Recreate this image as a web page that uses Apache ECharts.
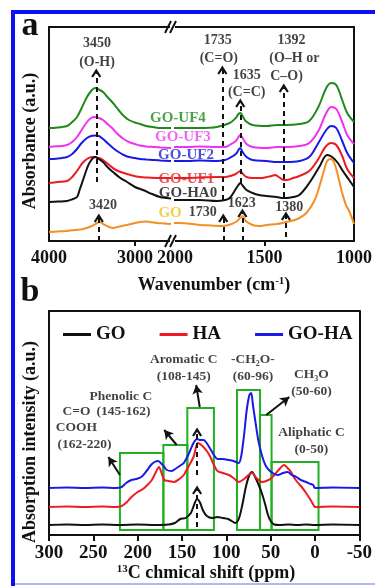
<!DOCTYPE html>
<html><head><meta charset="utf-8">
<script src="https://cdn.jsdelivr.net/npm/echarts@6/dist/echarts.min.js"></script>
<style>html,body{margin:0;padding:0;background:#fff}#c{width:375px;height:586px}</style>
</head><body><div id="c"></div>
<script>
// ---------- Panel a: FTIR spectra [wavenumber cm-1, absorbance a.u. (offset)] ----------
const uf4L = [[4000,113],[3950,113],[3850,114],[3790,115],[3730,119],[3674,124],[3620,133],[3558,144],[3510,150],[3465,153],[3420,151.5],[3371,149],[3320,144],[3255,138],[3190,131],[3130,125],[3070,121],[3000,118.5],[2941,117],[2870,115],[2789,114],[2700,113],[2626,113],[2580,113]];
const uf4R = [[2005,113],[1930,113],[1861,113],[1766,114],[1694,118],[1660,123],[1645,127],[1635,128],[1622,125],[1605,120],[1566,116],[1488,115],[1430,116],[1377,116],[1305,117],[1250,120],[1199,134],[1155,153],[1127,158],[1099,156],[1066,141],[1038,128],[1000,119]];
const uf3L = [[4000,94],[3950,94.5],[3850,95],[3790,96],[3730,99],[3674,104],[3620,111],[3558,119],[3510,123],[3465,124],[3420,123],[3371,121],[3320,117],[3255,112],[3190,106],[3130,102],[3070,99],[3000,97],[2941,95.5],[2870,94.5],[2789,94],[2700,93.5],[2580,93]];
const uf3R = [[2005,94],[1930,94],[1861,94.5],[1766,94],[1720,94],[1694,96],[1660,100],[1645,104],[1635,106],[1622,103],[1600,97],[1566,94],[1488,93],[1430,94],[1377,94],[1305,95],[1250,98],[1199,110],[1155,128],[1127,134],[1099,132],[1066,119],[1038,106],[1000,97]];
const uf2L = [[4000,82],[3950,82],[3850,83],[3790,84],[3730,87],[3674,92],[3620,98],[3558,103],[3510,105],[3465,105.5],[3420,105],[3371,102],[3320,98],[3255,93],[3190,89],[3130,86],[3070,84],[3000,83],[2941,82],[2870,81.5],[2789,81],[2700,80.5],[2580,80]];
const uf2R = [[2005,80],[1930,80],[1861,80.5],[1766,80],[1720,81],[1694,83],[1660,87],[1645,91],[1635,93],[1622,89],[1600,84],[1566,81],[1488,80],[1430,79],[1377,79],[1305,80],[1250,84],[1199,98],[1155,111],[1127,115],[1099,113],[1066,100],[1038,88],[1000,78]];
const uf1L = [[4000,58],[3900,59],[3790,60],[3730,64],[3674,70],[3610,78],[3558,82],[3500,84],[3465,84],[3420,83],[3371,81],[3300,76],[3220,71],[3130,68],[3050,66],[2941,64],[2850,63.5],[2700,63],[2580,63]];
const uf1R = [[2005,63],[1930,63],[1861,63.5],[1766,64],[1720,64],[1690,65],[1660,67],[1645,69],[1635,70],[1620,67],[1600,64],[1566,63],[1520,63],[1488,64],[1460,65],[1440,66],[1420,64],[1392,61],[1377,61],[1340,63],[1305,65],[1250,70],[1199,82],[1160,94],[1127,98],[1099,96],[1066,85],[1038,72],[1000,63]];
const ha0L = [[4000,39],[3900,39.5],[3790,40],[3720,42],[3674,44],[3640,52],[3604,61],[3560,72],[3523,79],[3465,84],[3420,82],[3371,79],[3320,74],[3255,69],[3170,63],[3092,59],[3000,54],[2906,51],[2800,47],[2708,44],[2626,43],[2580,42.5]];
const ha0R = [[2005,41],[1988,41],[1920,41],[1861,41],[1766,40],[1720,41],[1694,43],[1660,52],[1645,56],[1635,58],[1620,55],[1600,51],[1566,48],[1530,46],[1488,45],[1433,44],[1392,43],[1377,43],[1340,44],[1305,46],[1250,58],[1194,74],[1150,86],[1122,84],[1090,78],[1066,71],[1027,61],[1000,54]];
const goL = [[4000,9],[3900,9.5],[3800,10],[3700,11],[3604,12],[3500,15],[3440,18],[3406,19],[3370,17],[3300,14],[3255,13],[3180,14.5],[3092,16],[3000,18],[2941,19],[2880,19.5],[2824,19],[2740,18],[2660,17.5],[2580,17]];
const goR = [[2005,18],[1972,18],[1900,17],[1861,16],[1800,15.5],[1733,15],[1700,16],[1660,19],[1635,23],[1622,25],[1605,20],[1566,16],[1530,15],[1488,16],[1430,17],[1400,18],[1380,19],[1350,20],[1305,23],[1266,28],[1222,40],[1194,54],[1165,72],[1150,80],[1130,82],[1110,78],[1085,62],[1066,48],[1045,36],[1027,30],[1000,17]];

const ftirNames = ['GO-UF4','GO-UF3','GO-UF2','GO-UF1','GO-HA0','GO'];
const ftirColors = ['#1e8a1e','#f032f0','#1a1ae6','#ec1c24','#111111','#f39025'];
const ftirLabelColors = ['#1e8a1e','#f040f0','#2222d0','#e8202a','#111111','#f2c21c'];
const ftirLabelPos = [[1983,123],[1955,104],[1938,86],[1936,62],[1927,48],[2027,28]];

// annotation texts [wavenumber, height, text]
const ftirNotesL = [[3441,198,'3450'],[3441,179,'(O-H)'],[3371,36,'3420']];
const ftirNotesR = [[1761,201,'1735'],[1755,183,'(C=O)'],[1599,166,'1635'],[1599,149,'(C=C)'],[1349,201,'1392'],[1333,183,'(O–H or'],[1377,165,'C–O)'],[1844,29,'1730'],[1627,38,'1623'],[1361,34,'1380']];
// dashed arrows [wavenumber, from, to]
const ftirArrowsL = [[3450,59,168],[3420,0,23]];
const ftirArrowsR = [[1735,41,171],[1635,58,138],[1392,44,153],[1730,0,23],[1623,0,28],[1380,4,25]];
// tick labels
const ftirTicksL = [3000,4000];
const ftirTicksR = [1000,1500,2000];

// ---------- Panel b: 13C NMR [ppm, intensity a.u. (offset)] ----------
const nmrGO = [[300,10],[280,10.5],[260,10],[240,10.5],[220,10],[200,10.5],[180,10],[165,10.5],[158,12],[152,16],[146,17],[140,22],[136,31],[133,36],[130,33],[126,24],[122,19],[116,17],[110,18],[104,17],[98,16],[94,14],[90,12],[86,16],[82,30],[78,48],[74,60],[71,63],[67,57],[63,49],[60,42],[56,30],[53,20],[50,14],[46,10.5],[40,10],[30,10.5],[20,10],[10,10.5],[0,10],[-20,10.5],[-50,10]];
const nmrHA = [[300,28],[280,28.5],[260,28],[240,28.5],[225,28],[218,29],[212,33],[207,38],[200,43],[194,46],[189,50],[184,55],[180,62],[176,68],[173,62],[170,55],[165,54],[159,53],[153,56],[148,60],[143,68],[137,78],[132,92],[127,89],[122,84],[118,78],[114,70],[110,64],[104,62],[97,60],[92,57],[86,53],[80,56],[75,60],[71,62],[66,57],[60,53],[55,54],[49,57],[44,62],[39,67],[35,70],[31,67],[27,63],[24,58],[20,53],[15,48],[10,42],[5,35],[1,29],[0,28],[-20,28.5],[-50,28]];
const nmrGOHA = [[300,47],[280,47.5],[260,47],[240,47.5],[225,47],[218,48],[213,52],[207,55],[202,56],[196,58],[190,64],[185,70],[181,73],[177,74],[174,72],[170,68],[167,65],[162,64],[156,67],[151,70],[148,72],[143,80],[137,92],[133,96],[130,95],[126,95],[123,93],[118,86],[114,80],[110,76],[104,76],[97,75],[92,74],[86,72],[83,80],[80,100],[77,125],[74,140],[72,142],[70,130],[67,112],[64,95],[60,80],[56,70],[52,65],[46,61],[42,60],[36,62],[31,63],[26,60],[21,58],[16,55],[10,53],[5,51],[2,50],[0,47],[-20,47.5],[-50,47]];
const nmrNames = ['GO','HA','GO-HA'];
const nmrColors = ['#111111','#ec1c24','#1a1ae6'];
// boxes [fromPpm, toPpm, top]
const nmrBoxes = [[220,171,82],[171,144,90],[144,114,127],[88,62,145],[62,49,120],[49,-4,73]];
const nmrBoxBottom = 5;
const nmrNotes = [[269,123,'C=O'],[269,107,'COOH'],[260,90,'(162-220)'],[219,138,'Phenolic C'],[216,123,'(145-162)'],[148,175,'Aromatic C'],[148,158,'(108-145)'],[70,175,'-CH{s|2}O-'],[70,158,'(60-96)'],[4,160,'CH{s|3}O'],[4,143,'(50-60)'],[4,102,'Aliphatic C'],[4,85,'(0-50)']];
const nmrDashed = [[133,8,45],[133,60,103]];
const nmrSolid = [[220,60,233,78],[156,90,170,105],[130,128,134,150],[55,120,29,138]];

// ---------- build ----------
const FONT = 'Liberation Serif';
const chevron = 'path://M0,9 L5,0 L10,9 L8.2,10 L5,4.6 L1.8,10 Z';
const chart = echarts.init(document.getElementById('c'), null, {renderer:'canvas'});
const plain = v => String(v);

function axisLineOnly(extra){
  return Object.assign({type:'value', axisLine:{show:true,onZero:false,lineStyle:{color:'#111',width:2}},
    axisTick:{show:false}, axisLabel:{show:false}, splitLine:{show:false}}, extra);
}
const tickLabel = (size)=>({show:true, fontFamily:FONT, fontWeight:'bold', fontSize:size, color:'#111', formatter:plain});

const xAxes = [
  axisLineOnly({gridIndex:0, min:2580, max:4000, inverse:true, position:'bottom',
    axisTick:{show:true, length:5, inside:false, lineStyle:{width:2,color:'#111'}, customValues:[3000]},
    axisLabel:Object.assign(tickLabel(18), {margin:8, customValues:ftirTicksL, showMinLabel:true, showMaxLabel:true})}),
  axisLineOnly({gridIndex:1, min:1000, max:2005, inverse:true, position:'bottom',
    axisTick:{show:true, length:5, lineStyle:{width:2,color:'#111'}, customValues:[1500]},
    axisLabel:Object.assign(tickLabel(18), {margin:8, customValues:ftirTicksR, showMinLabel:true, showMaxLabel:true})}),
  axisLineOnly({gridIndex:0, min:2580, max:4000, inverse:true, position:'top'}),
  axisLineOnly({gridIndex:1, min:1000, max:2005, inverse:true, position:'top'}),
  axisLineOnly({gridIndex:2, min:-50, max:300, interval:50, inverse:true, position:'bottom',
    axisTick:{show:true, length:6, lineStyle:{width:2,color:'#111'}},
    axisLabel:Object.assign(tickLabel(19), {margin:9, showMinLabel:true, showMaxLabel:true})}),
  axisLineOnly({gridIndex:2, min:-50, max:300, inverse:true, position:'top'})
];
const yAxes = [
  axisLineOnly({gridIndex:0, min:0, max:214, position:'left'}),
  axisLineOnly({gridIndex:1, min:0, max:214, position:'right'}),
  axisLineOnly({gridIndex:2, min:0, max:224, position:'left'}),
  axisLineOnly({gridIndex:2, min:0, max:224, position:'right'})
];

const series = [];
const ftirL = [uf4L,uf3L,uf2L,uf1L,ha0L,goL];
const ftirR = [uf4R,uf3R,uf2R,uf1R,ha0R,goR];
ftirNames.forEach((n,i)=>{
  series.push({type:'line', name:n+' ftir-l', xAxisIndex:0, yAxisIndex:0, data:ftirL[i], showSymbol:false, smooth:0.35,
    lineStyle:{color:ftirColors[i], width:2}, itemStyle:{color:ftirColors[i]}, z:3});
  series.push({type:'line', name:n+' ftir-r', xAxisIndex:1, yAxisIndex:1, data:ftirR[i], showSymbol:false, smooth:0.35,
    lineStyle:{color:ftirColors[i], width:2}, itemStyle:{color:ftirColors[i]}, z:3});
});

const noteLabel = (size)=>({show:true, position:'inside', formatter:p=>p.name, fontFamily:FONT, fontWeight:'bold', fontSize:size, color:'#111',
  rich:{s:{fontFamily:FONT, fontWeight:'bold', fontSize:Math.round(size*0.62), color:'#111', padding:[7,0,0,0]}}});
function mkArrows(list){
  return list.map(a=>[{coord:[a[0],a[1]]},{coord:[a[0],a[2]]}]);
}
series.push({type:'scatter', name:'ftir-names', xAxisIndex:1, yAxisIndex:1, clip:false, silent:true, symbolSize:1,
  itemStyle:{color:'transparent'}, z:6,
  data:ftirNames.map((n,i)=>({name:n, value:ftirLabelPos[i], label:{color:ftirLabelColors[i]}})),
  label:{show:true, position:'inside', formatter:p=>p.name, fontFamily:FONT, fontWeight:'bold', fontSize:15}});
series.push({type:'scatter', name:'ftir-notes-l', xAxisIndex:0, yAxisIndex:0, clip:false, silent:true, symbolSize:1,
  itemStyle:{color:'transparent'}, z:6, data:ftirNotesL.map(a=>({name:a[2], value:[a[0],a[1]]})), label:noteLabel(14),
  markLine:{silent:true, symbol:['none',chevron], symbolSize:[10,9], label:{show:false}, animation:false,
    lineStyle:{type:[5,4], width:2, color:'#111'}, data:mkArrows(ftirArrowsL)}});
series.push({type:'scatter', name:'ftir-notes-r', xAxisIndex:1, yAxisIndex:1, clip:false, silent:true, symbolSize:1,
  itemStyle:{color:'transparent'}, z:6, data:ftirNotesR.map(a=>({name:a[2], value:[a[0],a[1]]})), label:noteLabel(14),
  markLine:{silent:true, symbol:['none',chevron], symbolSize:[10,9], label:{show:false}, animation:false,
    lineStyle:{type:[5,4], width:2, color:'#111'}, data:mkArrows(ftirArrowsR)}});

const nmrData = [nmrGO, nmrHA, nmrGOHA];
nmrNames.forEach((n,i)=>{
  series.push({type:'line', name:n, xAxisIndex:4, yAxisIndex:2, data:nmrData[i], showSymbol:false, smooth:0.3,
    lineStyle:{color:nmrColors[i], width:2}, itemStyle:{color:nmrColors[i]}, z:3});
});
series.push({type:'scatter', name:'nmr-notes', xAxisIndex:4, yAxisIndex:2, clip:false, silent:true, symbolSize:1,
  itemStyle:{color:'transparent'}, z:6, data:nmrNotes.map(a=>({name:a[2], value:[a[0],a[1]]})), label:noteLabel(13.5),
  markArea:{silent:true, itemStyle:{color:'rgba(0,0,0,0)', borderColor:'#22b022', borderWidth:2},
    data:nmrBoxes.map(b=>[{coord:[b[0],nmrBoxBottom]},{coord:[b[1],b[2]]}])},
  markLine:{silent:true, symbol:['none',chevron], symbolSize:[10,9], label:{show:false}, animation:false,
    lineStyle:{type:[5,4], width:2, color:'#111'}, data:mkArrows(nmrDashed)}});
series.push({type:'scatter', name:'nmr-arrows', xAxisIndex:4, yAxisIndex:2, clip:false, silent:true, symbolSize:0, data:[],
  markLine:{silent:true, symbol:['none','arrow'], symbolSize:[8,9], label:{show:false}, animation:false,
    lineStyle:{type:'solid', width:2, color:'#111'},
    data:nmrSolid.map(s=>[{coord:[s[0],s[1]]},{coord:[s[2],s[3]]}])}});

const T = (txt, x, y, size, extra)=>({type:'text', x:x, y:y, z:20, silent:true,
  style:Object.assign({text:txt, fontFamily:FONT, fontWeight:'bold', fontSize:size, fill:'#111', textAlign:'center', textVerticalAlign:'middle'}, extra||{})});

const graphic = [
  {type:'rect', shape:{x:11,y:10,width:4,height:576}, style:{fill:'#0d10f2'}, silent:true, z:30},
  {type:'rect', shape:{x:11,y:10,width:364,height:4}, style:{fill:'#0d10f2'}, silent:true, z:30},
  {type:'rect', shape:{x:15,y:583,width:360,height:2}, style:{fill:'#b4b8f4'}, silent:true, z:30},
  T('a', 30, 26, 34),
  T('b', 30, 292, 34),
  Object.assign(T('Absorbance (a.u.)', 30, 141, 18), {rotation:Math.PI/2}),
  Object.assign(T('Absorption intensity (a.u.)', 30, 442, 18), {rotation:Math.PI/2}),
  T('Wavenumber (cm{sup|-1})', 214, 285, 18, {rich:{sup:{fontFamily:FONT, fontWeight:'bold', fontSize:11, fill:'#111', padding:[0,0,8,0]}}}),
  T('{sup|13}C chmical shift (ppm)', 206, 573, 18, {rich:{sup:{fontFamily:FONT, fontWeight:'bold', fontSize:11, fill:'#111', padding:[0,0,8,0]}}}),
  {type:'rect', shape:{x:170,y:236,width:5,height:10}, style:{fill:'#fff'}, silent:true, z:25},
  {type:'line', shape:{x1:165,y1:247,x2:171,y2:235}, style:{stroke:'#111', lineWidth:2}, silent:true, z:26},
  {type:'line', shape:{x1:170,y1:247,x2:176,y2:235}, style:{stroke:'#111', lineWidth:2}, silent:true, z:26},
  {type:'rect', shape:{x:170,y:22,width:5,height:10}, style:{fill:'#fff'}, silent:true, z:25},
  {type:'line', shape:{x1:165,y1:33,x2:171,y2:21}, style:{stroke:'#111', lineWidth:2}, silent:true, z:26},
  {type:'line', shape:{x1:170,y1:33,x2:176,y2:21}, style:{stroke:'#111', lineWidth:2}, silent:true, z:26}
];

chart.setOption({
  animation:false,
  backgroundColor:'#ffffff',
  grid:[
    {left:49, top:27, width:122, height:214},
    {left:174, top:27, width:181, height:214},
    {left:49, top:311, width:318, height:224}
  ],
  xAxis:xAxes, yAxis:yAxes,
  legend:{data:nmrNames, left:58, top:320, icon:'rect', itemWidth:28, itemHeight:3, itemGap:34,
    textStyle:{fontFamily:FONT, fontWeight:'bold', fontSize:19, color:'#111'}},
  series:series,
  graphic:graphic
});
</script>
</body></html>
